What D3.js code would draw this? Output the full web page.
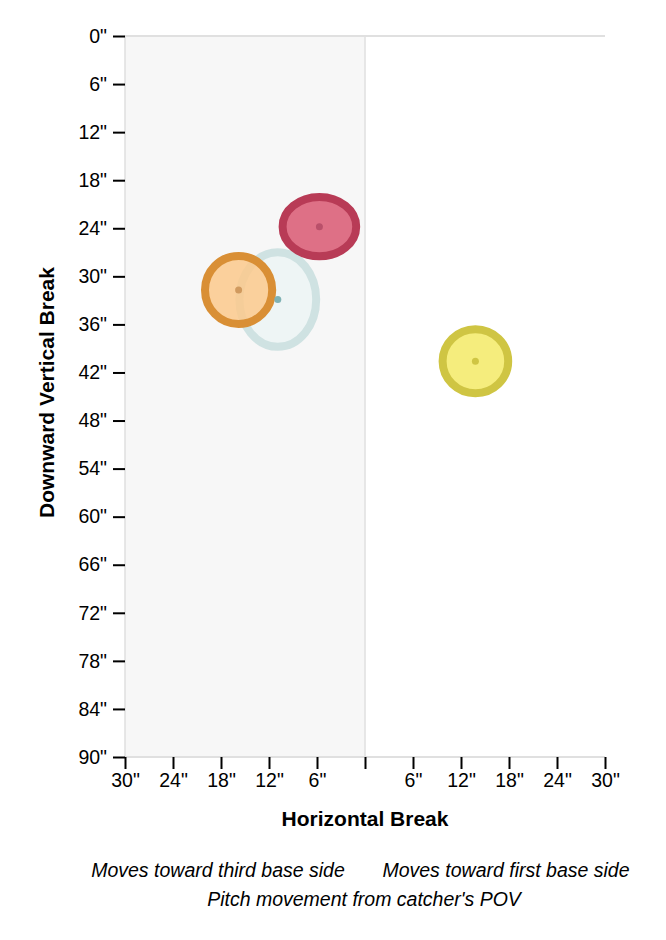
<!DOCTYPE html>
<html>
<head>
<meta charset="utf-8">
<script src="https://cdn.jsdelivr.net/npm/d3@7"></script>
<style>
  body { margin: 0; background: #fff; }
  text { font-family: "Liberation Sans", Arial, sans-serif; }
</style>
</head>
<body>
<svg id="container" width="666" height="940"></svg>
<script>
// pitch groups (colour ids), movement in inches
const pitches = ["slider", "curve", "changeup", "sinker"];
const hBreak = [-5.7, -15.8, -10.9, 13.8];   // negative = third base side
const vBreak = [23.8, 31.7, 32.9, 40.6];     // downward break
const hSpread = [4.6, 4.2, 4.8, 4.1];
const vSpread = [3.7, 4.25, 5.9, 4.0];
const xTicks = [-30, -24, -18, -12, -6, 0, 6, 12, 18, 24, 30];
const yTicks = [0, 6, 12, 18, 24, 30, 36, 42, 48, 54, 60, 66, 72, 78, 84, 90];

const strokeCols = ["#b83b56", "#d98f35", "#cfe2e2", "#cfc543"];
const fillCols = ["#de7086", "#fbc98c", "#eef5f5", "#f5ed7d"];
const dotCols = ["#b9506a", "#d19a5e", "#7fb2b4", "#cfc543"];

const svg = d3.select('#container');
const margin = {left: 125, right: 61, top: 36, bottom: 183};
const width = +svg.attr('width');
const height = +svg.attr('height');

const x = d3.scaleLinear().domain([-30, 30]).range([margin.left, width - margin.right]);
const y = d3.scaleLinear().domain([0, 90]).range([margin.top, height - margin.bottom]);

// third base side shading
svg.append('rect')
    .attr('x', x(-30))
    .attr('y', y(0))
    .attr('width', x(0) - x(-30))
    .attr('height', y(90) - y(0))
    .attr('fill', '#f7f7f7')
    .attr('stroke', '#e0e0e0')
    .attr('stroke-width', 1.5);

// top and bottom rules
[0, 90].forEach(v => {
  svg.append('line')
      .attr('x1', x(-30)).attr('x2', x(30))
      .attr('y1', y(v)).attr('y2', y(v))
      .attr('stroke', '#e0e0e0')
      .attr('stroke-width', 2);
});

const fmt = d => d === 0 ? '' : Math.abs(d) + '"';

const xAxis = svg.append('g')
    .attr('transform', `translate(0,${y(90)})`)
    .call(d3.axisBottom(x).tickValues(xTicks).tickFormat(fmt).tickSize(12).tickPadding(4));
xAxis.select('.domain').remove();

const yAxis = svg.append('g')
    .attr('transform', `translate(${x(-30)},0)`)
    .call(d3.axisLeft(y).tickValues(yTicks).tickFormat(d => d + '"').tickSize(12).tickPadding(6));
yAxis.select('.domain').remove();

svg.selectAll('.tick line').attr('stroke', '#000').attr('stroke-width', 2);
svg.selectAll('.tick text')
    .attr('fill', '#000')
    .style('font-size', '19.5px')
    .style('font-family', '"Liberation Sans", Arial, sans-serif');

// drawing order: pale group first
const order = [2, 3, 1, 0];
const data = order.map(i => ({
  name: pitches[i], h: hBreak[i], v: vBreak[i], rh: hSpread[i], rv: vSpread[i],
  stroke: strokeCols[i], fill: fillCols[i], dot: dotCols[i]
}));

svg.selectAll('ellipse.spread')
    .data(data)
    .enter()
    .append('ellipse')
    .attr('class', 'spread')
    .attr('cx', d => x(d.h))
    .attr('cy', d => y(d.v))
    .attr('rx', d => x(d.h + d.rh) - x(d.h))
    .attr('ry', d => y(d.v + d.rv) - y(d.v))
    .attr('fill', d => d.fill)
    .attr('fill-opacity', d => d.name === 'curve' ? 0.85 : 1)
    .attr('stroke', d => d.stroke)
    .attr('stroke-width', 8);

svg.selectAll('circle.center')
    .data(data)
    .enter()
    .append('circle')
    .attr('class', 'center')
    .attr('cx', d => x(d.h))
    .attr('cy', d => y(d.v))
    .attr('r', 3.5)
    .attr('fill', d => d.dot);

// titles
svg.append('text')
    .attr('x', x(0))
    .attr('y', 826)
    .attr('text-anchor', 'middle')
    .style('font-size', '21px')
    .style('font-weight', 'bold')
    .text('Horizontal Break');

svg.append('text')
    .attr('transform', `translate(54,${(y(0) + y(90)) / 2 - 4}) rotate(-90)`)
    .attr('text-anchor', 'middle')
    .style('font-size', '21px')
    .style('font-weight', 'bold')
    .text('Downward Vertical Break');

const notes = [
  {t: 'Moves toward third base side', x: 218, y: 877},
  {t: 'Moves toward first base side', x: 506, y: 877},
  {t: "Pitch movement from catcher's POV", x: 364, y: 906}
];
svg.selectAll('text.note')
    .data(notes)
    .enter()
    .append('text')
    .attr('class', 'note')
    .attr('x', d => d.x)
    .attr('y', d => d.y)
    .attr('text-anchor', 'middle')
    .style('font-size', '19.5px')
    .style('font-style', 'italic')
    .text(d => d.t);
</script>
</body>
</html>
